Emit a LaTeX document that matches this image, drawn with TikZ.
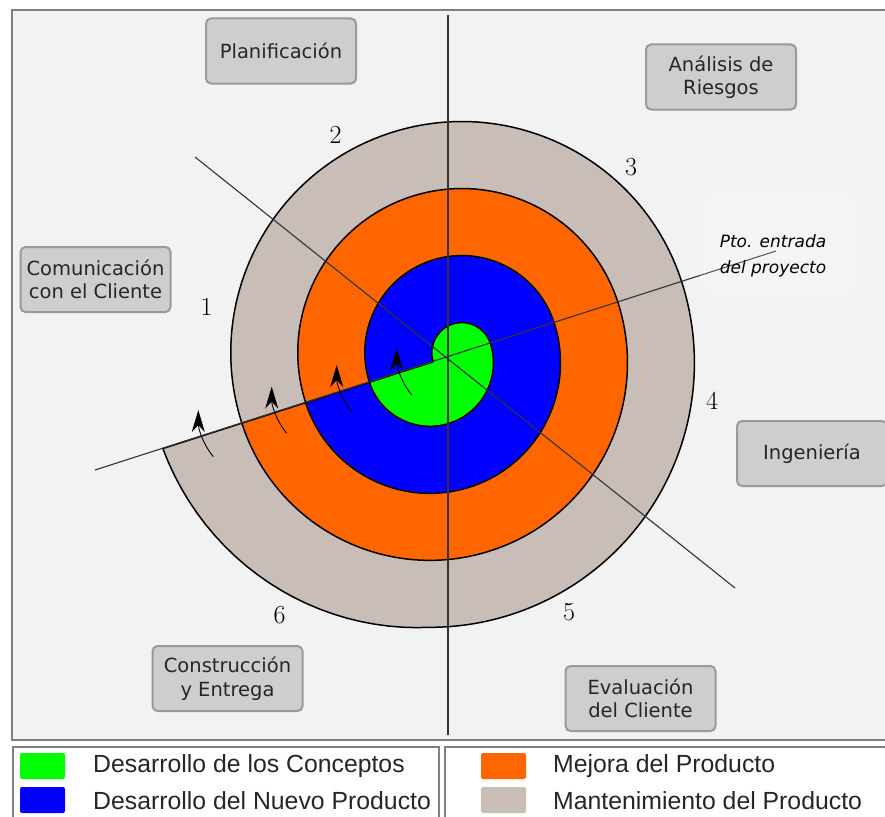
\documentclass[tikz,border=0pt]{standalone}
\usepackage{fontspec}
\newfontfamily\cajafont{DejaVu Sans}
\newfontfamily\leyendafont{Liberation Sans}
\usetikzlibrary{arrows.meta}

\definecolor{verde}{HTML}{00FF00}
\definecolor{azul}{HTML}{0000FF}
\definecolor{naranja}{HTML}{FF6600}
\definecolor{gris}{HTML}{C8BEB7}
\definecolor{fondo}{HTML}{F2F2F2}
\definecolor{cajagris}{HTML}{CECECE}
\definecolor{borde}{HTML}{9A9A9A}
\definecolor{marco}{HTML}{808080}

\tikzstyle{fase} = [rectangle, rounded corners = 5pt, minimum width = 150pt, 
	minimum height = 65pt, align = center, fill = cajagris, draw = borde, 
	line width = 2pt, text = black!85, font = \cajafont\fontsize{19.5}{23.5}\selectfont]
\tikzstyle{vuelta} = [draw = black, line width = 1.5pt, line join = round]
\tikzstyle{eje} = [draw = black!80, line width = 1.1pt]
\tikzstyle{numero} = [font = \fontsize{26}{26}\selectfont]
\tikzstyle{muestra} = [rectangle, minimum width = 45pt, minimum height = 26pt, 
	rounded corners = 2pt, inner sep = 0pt]
\tikzstyle{leyenda} = [anchor = base west, inner sep = 0pt, text = black!85, 
	font = \leyendafont\fontsize{24.8}{26}\selectfont]
\tikzstyle{giro} = [line width = 0.9pt, -{Stealth[length = 22pt, width = 13pt, inset = 7pt]}]

\begin{document}
\begin{tikzpicture}[x = 1pt, y = -1pt]

\useasboundingbox (0,0) rectangle (885,816);
\fill[white] (0,0) rectangle (885,816);
\draw[draw = marco, line width = 2pt, fill = fondo] (12,10) rectangle (895,740);
\draw[draw = marco, line width = 2pt, fill = white] (13,747) rectangle (439,825);
\draw[draw = marco, line width = 2pt, fill = white] (445,747) rectangle (895,825);

\coordinate (O) at (448,357);
\coordinate (A) at (461.81,352.57);
\coordinate (B) at (429.91,362.81);

\filldraw[vuelta, fill = gris] ([shift = {(162.2:231)}]A) 
	arc[start angle = 162.2, end angle = 342.2, radius = 231] 
	arc[start angle = -17.8, end angle = 90, radius = 264.5] 
	-- plot[domain = 90:162.2, samples = 25] 
	({429.91 + (264.5 + 16*(\x - 90)/72.2)*cos(\x)}, {362.81 + (264.5 + 16*(\x - 90)/72.2)*sin(\x)}) 
	-- cycle;

\foreach \r/\s/\col in {164/197.5/naranja, 97/130.5/azul, 30/63.5/verde}
	\filldraw[vuelta, fill = \col] ([shift = {(162.2:\r)}]A) 
		arc[start angle = 162.2, end angle = 342.2, radius = \r] 
		arc[start angle = -17.8, end angle = 162.2, radius = \s] -- cycle;

\draw[eje] (448,15) -- (448,735);
\draw[eje] (195,157) -- (735,588);
\draw[eje] (95,470) -- (776,251);

\fill[white, opacity = 0.2, rounded corners = 8pt] (700,193) rectangle (860,295);
\node (entrada) [align = center, font = \cajafont\itshape\fontsize{17}{26}\selectfont] 
	at (773,256) {Pto. entrada\\del proyecto};

\foreach \x/\y in {213.3/456.7, 286.7/433.3, 351.7/411.7, 411.7/395}
	\draw[giro] (\x,\y) .. controls (\x - 10,\y - 12) and (\x - 15,\y - 28) .. (\x - 15,\y - 46.7);

\node (planif) [fase] at (281,51) {Planificación};
\node (riesgos) [fase] at (721,77) {Análisis de\\Riesgos};
\node (comunic) [fase] at (95.5,279.5) {Comunicación\\con el Cliente};
\node (ingen) [fase] at (812,453.5) {Ingeniería};
\node (constr) [fase] at (227.5,678.5) {Construcción\\y Entrega};
\node (evalua) [fase] at (640.5,698.5) {Evaluación\\del Cliente};

\node (num1) [numero] at (206.5,307) {1};
\node (num2) [numero] at (335.5,134.5) {2};
\node (num3) [numero] at (631,167) {3};
\node (num4) [numero] at (712,401) {4};
\node (num5) [numero] at (569,612.5) {5};
\node (num6) [numero] at (279.5,615.5) {6};

\node (mverde) [muestra, fill = verde] at (42.5,766) {};
\node (mazul) [muestra, fill = azul] at (42.5,800) {};
\node (mnaranja) [muestra, fill = naranja] at (503.5,766) {};
\node (mgris) [muestra, fill = gris] at (503.5,800) {};

\node (tverde) [leyenda] at (93,772) {Desarrollo de los Conceptos};
\node (tazul) [leyenda] at (93,809) {Desarrollo del Nuevo Producto};
\node (tnaranja) [leyenda] at (553,772) {Mejora del Producto};
\node (tgris) [leyenda] at (553,809) {Mantenimiento del Producto};

\end{tikzpicture}
\end{document}
